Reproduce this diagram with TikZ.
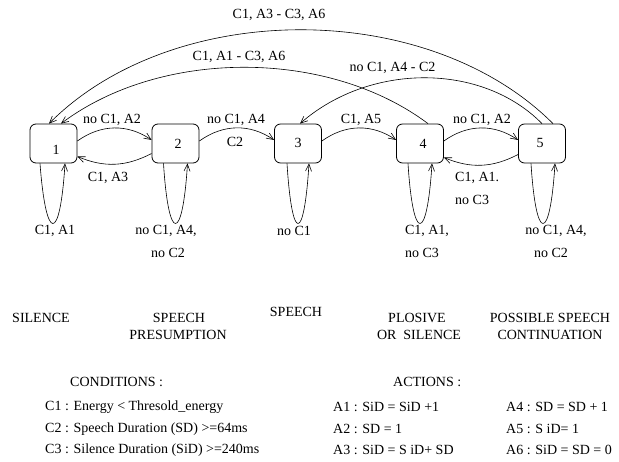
\documentclass[tikz,border=0pt]{standalone}
\usepackage{fontspec}
\setmainfont{Liberation Serif}
\newfontfamily\tnr{Liberation Serif}
\usetikzlibrary{arrows.meta}
\begin{document}
\begin{tikzpicture}[x=1pt,y=-1pt,
  every node/.style={font=\tnr\fontsize{14}{16}\selectfont, inner sep=0pt},
  state/.style={draw, line width=0.8pt, rounded corners=6pt, minimum width=47pt, minimum height=39pt},
  arr/.style={-{Straight Barb[length=7pt,width=6pt]}, line width=0.6pt},
  lbl/.style={anchor=center},
  leg/.style={anchor=west}]
\useasboundingbox (0,0) rectangle (619,461);

% states
\node[state] (b1) at (53.5,143.5) {};
\node[state] (b2) at (175.5,143.5) {};
\node[state] (b3) at (298,143.5) {};
\node[state] (b4) at (420,143.5) {};
\node[state] (b5) at (542,143.5) {};
\node (n1) at (56,150) {1};
\node (n2) at (178,144) {2};
\node (n3) at (298,143) {3};
\node (n4) at (423,144) {4};
\node (n5) at (540,143) {5};

% neighbour arcs
\draw[arr] ([yshift=2.5pt]b1.east) to[bend left=35] ([yshift=3.5pt]b2.west);
\draw[arr] ([yshift=-10pt]b2.west) to[bend left=25] ([yshift=-13pt]b1.east);
\draw[arr] ([yshift=2.5pt]b2.east) to[bend left=35] ([yshift=3.5pt]b3.west);
\draw[arr] ([yshift=2.5pt]b3.east) to[bend left=35] ([yshift=3.5pt]b4.west);
\draw[arr] ([yshift=2.5pt]b4.east) to[bend left=35] ([yshift=3.5pt]b5.west);
\draw[arr] ([yshift=-11pt]b5.west) to[bend left=25] ([yshift=-14pt]b4.east);

% self loops
\draw[arr] ([xshift=-13.5pt]b1.south) .. controls +(6,80) and +(-5,80) .. ([xshift=11.5pt]b1.south);
\draw[arr] ([xshift=-12pt]b2.south) .. controls +(5,80) and +(-5,80) .. ([xshift=12pt]b2.south);
\draw[arr] ([xshift=-11pt]b3.south) .. controls +(5,80) and +(-5,80) .. ([xshift=11pt]b3.south);
\draw[arr] ([xshift=-12pt]b4.south) .. controls +(5,80) and +(-5,80) .. ([xshift=12pt]b4.south);
\draw[arr] ([xshift=-11pt]b5.south) .. controls +(5,80) and +(-5,80) .. ([xshift=13pt]b5.south);

% long arcs
\draw[arr] ([xshift=11pt]b5.north) .. controls +(-125,-125) and +(125,-125) .. ([xshift=-4.5pt]b1.north);
\draw[arr] ([xshift=8pt]b4.north) .. controls +(-100,-75) and +(100,-75) .. ([xshift=7.5pt]b1.north);
\draw[arr] (b5.north) .. controls +(-60,-61) and +(70,-61) .. ([xshift=2pt]b3.north);

% arc labels
\node[lbl] (t1) at (279,15) {C1, A3 - C3, A6};
\node[lbl] (t2) at (239,57) {C1, A1 - C3, A6};
\node[lbl] (t3) at (392.5,68) {no C1, A4 - C2};
\node[lbl] (u12) at (112,120) {no C1, A2};
\node[lbl] (u23) at (236,120) {no C1, A4};
\node[lbl] (c2) at (235,142) {C2};
\node[lbl] (u34) at (361,120) {C1, A5};
\node[lbl] (u45) at (482,120) {no C1, A2};
\node[lbl] (d21) at (108,178) {C1, A3};
\node[leg] (d54) at (455,178) {C1, A1.};
\node[leg] (d54b) at (455,200) {no C3};

% loop labels
\node[lbl] (l1) at (55,231) {C1, A1};
\node[lbl] (l2) at (166,231) {no C1, A4,};
\node[lbl] (l2b) at (168,253) {no C2};
\node[lbl] (l3) at (294,231) {no C1};
\node[lbl] (l4) at (427,231) {C1, A1,};
\node[lbl] (l4b) at (422,253) {no C3};
\node[lbl] (l5) at (556,231) {no C1, A4,};
\node[lbl] (l5b) at (551,253) {no C2};

% state names
\node[lbl] (s1) at (41,318) {SILENCE};
\node[lbl] (s2) at (179,318) {SPEECH};
\node[lbl] (s2b) at (178,335) {PRESUMPTION};
\node[lbl] (s3) at (296,312) {SPEECH};
\node[lbl] (s4) at (417,318) {PLOSIVE};
\node[lbl] (s4b) at (419,335) {OR\ \ SILENCE};
\node[lbl] (s5) at (550,318) {POSSIBLE SPEECH};
\node[lbl] (s5b) at (550,335) {CONTINUATION};

% legend
\node[leg] (cond) at (70,382) {CONDITIONS :};
\node[leg] (cc1) at (45,407) {C1 : Energy < Thresold\_energy};
\node[leg] (cc2) at (45,429) {C2 : Speech Duration (SD) >=64ms};
\node[leg] (cc3) at (45,450) {C3 : Silence Duration (SiD) >=240ms};
\node[leg] (act) at (393,382) {ACTIONS :};
\node[leg] (a1) at (333,407) {A1 : SiD = SiD +1};
\node[leg] (a2) at (333,429) {A2 : SD = 1};
\node[leg] (a3) at (333,450) {A3 : SiD = S iD+ SD};
\node[leg] (a4) at (506,407) {A4 : SD = SD + 1};
\node[leg] (a5) at (506,429) {A5 : S iD= 1};
\node[leg] (a6) at (506,450) {A6 : SiD = SD = 0};
\end{tikzpicture}
\end{document}
